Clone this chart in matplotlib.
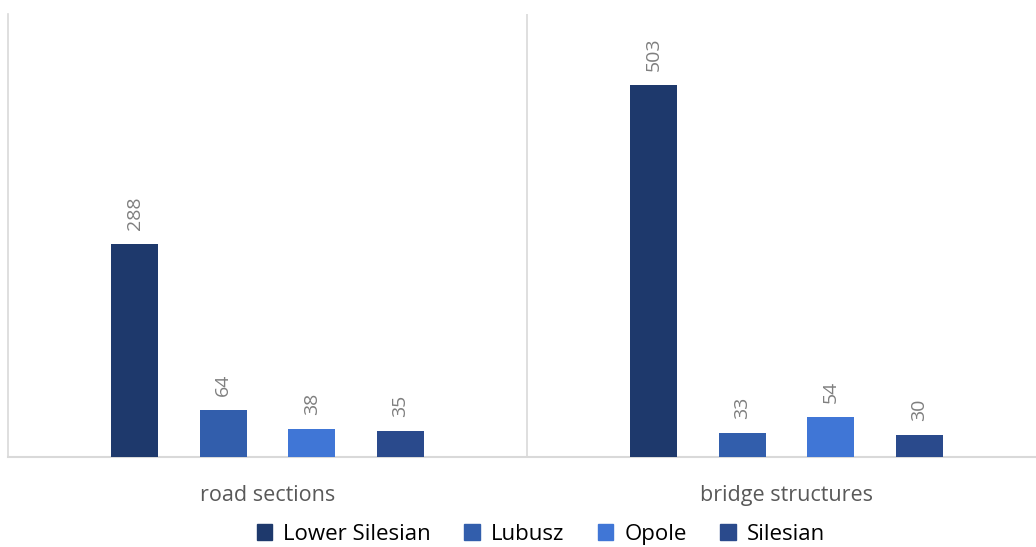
import numpy as np
import matplotlib
matplotlib.use("Agg")
import matplotlib.pyplot as plt
from matplotlib.patches import Patch

plt.rcParams['font.family'] = ['Open Sans', 'DejaVu Sans']

# Data
categories = ['road sections', 'bridge structures']
series = ['Lower Silesian', 'Lubusz', 'Opole', 'Silesian']
values = {
    'Lower Silesian': [288, 503],
    'Lubusz': [64, 33],
    'Opole': [38, 54],
    'Silesian': [35, 30],
}
colors = ['#1E396C', '#325EAC', '#4076D6', '#2A4A8C']

fig = plt.figure(figsize=(10.36, 5.47), dpi=100)
W, H = 1036, 547
# axes spans 2 category widths in pixels, the right edge is cut by the figure
ax = fig.add_axes([8 / W, (H - 457) / H, (519 * 2) / W, (457 - 14) / H])

x = np.arange(len(categories))
slot = 0.1705
bw = 0.0906
for i, s in enumerate(series):
    pos = x + (i - 1.5) * slot
    bars = ax.bar(pos, values[s], width=bw, color=colors[i], zorder=3)
    for b, v in zip(bars, values[s]):
        ax.annotate(str(v), (b.get_x() + b.get_width() / 2, v),
                    xytext=(0, 14), textcoords='offset pixels',
                    rotation=90, ha='center', va='bottom',
                    fontsize=14, color='#7F7F7F')

ax.set_xlim(-0.5, 1.5)
ax.set_ylim(0, 599)
ax.set_yticks([])
ax.set_xticks(x)
ax.set_xticklabels(categories, fontsize=15.5, color='#595959')
ax.tick_params(axis='x', length=0, pad=20)
for sp in ['top', 'right']:
    ax.spines[sp].set_visible(False)
ax.spines['left'].set_color('#D9D9D9')
ax.spines['bottom'].set_color('#D9D9D9')
ax.spines['left'].set_linewidth(1.2)
ax.spines['bottom'].set_linewidth(1.5)
ax.axvline(0.5, color='#D9D9D9', lw=1.2, zorder=1)

handles = [Patch(color=c) for c in colors]
fig.legend(handles, series, loc='lower center', bbox_to_anchor=(0.522, -0.033),
           ncol=4, frameon=False, fontsize=16, handlelength=0.7,
           handleheight=0.7, handletextpad=0.5, columnspacing=1.5)

fig.savefig('out.png', dpi=100)
